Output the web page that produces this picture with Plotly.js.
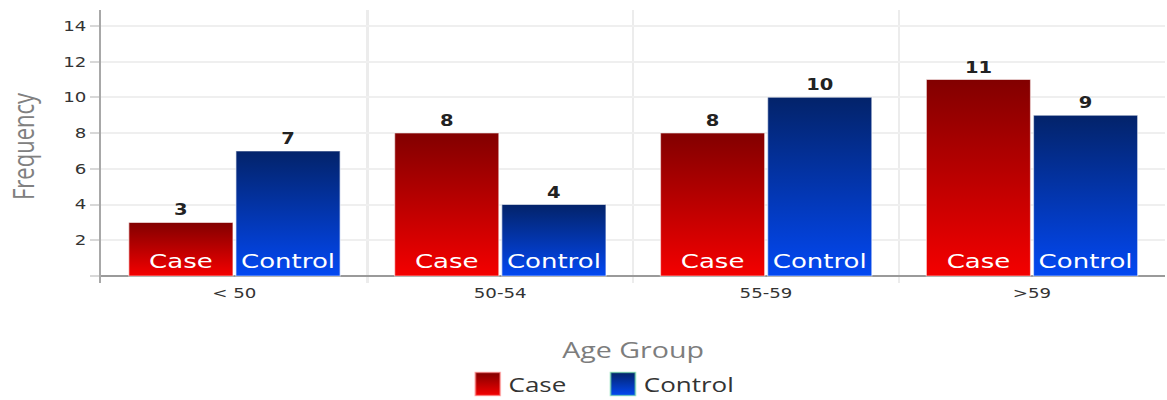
<!DOCTYPE html>
<html>
<head>
<meta charset="utf-8">
<script src="https://cdn.plot.ly/plotly-3.0.1.min.js"></script>
<style>
  html, body { margin: 0; padding: 0; background: #ffffff; overflow: hidden; }
  #wrap { width: 1167px; height: 400px; overflow: hidden; }
  #chart { width: 898px; height: 400px; transform: scaleX(1.3); transform-origin: 0 0; }
</style>
</head>
<body>
<div id="wrap"><div id="chart"></div></div>
<script>
// ---- data ----
const categories = ['< 50', '50-54', '55-59', '>59'];
const caseValues = [3, 8, 8, 11];
const controlValues = [7, 4, 10, 9];
const seriesNames = ['Case', 'Control'];
const yTickVals = [0, 2, 4, 6, 8, 10, 12, 14];
const yTickText = ['', '2', '4', '6', '8', '10', '12', '14'];

// ---- styling ----
const barWidth = 0.392;
const caseOffset = -0.397;
const controlOffset = 0.006;
const grad = {
  Case: ['#820000', '#f40000'],
  Control: ['#03236a', '#0348f2']
};
const legendBorder = { Case: '#ff7a7a', Control: '#5fd79a' };

function valueTrace(name, values, offset, color) {
  return {
    type: 'bar', name: name, x: categories, y: values,
    offset: offset, width: barWidth,
    marker: { color: color, line: { color: 'rgba(255,255,255,0.55)', width: 1 } },
    text: values.map(String), textposition: 'outside', cliponaxis: false,
    constraintext: 'none',
    outsidetextfont: { family: 'DejaVu Sans', size: 15, weight: 700, color: '#222222' },
    hoverinfo: 'x+y+name'
  };
}
function labelTrace(name, values, offset) {
  return {
    type: 'bar', name: name, x: categories, y: values,
    offset: offset, width: barWidth, showlegend: false, hoverinfo: 'skip',
    marker: { color: 'rgba(0,0,0,0)', line: { width: 0 } },
    text: values.map(() => name), textposition: 'inside', insidetextanchor: 'start',
    constraintext: 'none',
    insidetextfont: { family: 'DejaVu Sans', size: 20, color: '#ffffff' }
  };
}

const data = [
  valueTrace(seriesNames[0], caseValues, caseOffset, grad.Case[1]),
  valueTrace(seriesNames[1], controlValues, controlOffset, grad.Control[1]),
  labelTrace(seriesNames[0], caseValues, caseOffset),
  labelTrace(seriesNames[1], controlValues, controlOffset)
];

const layout = {
  width: 898, height: 400,
  margin: { l: 78, r: 2, t: 10, b: 117, pad: 0, autoexpand: false },
  paper_bgcolor: '#ffffff', plot_bgcolor: '#ffffff',
  barmode: 'overlay',
  font: { family: 'DejaVu Sans', size: 14, color: '#333333' },
  xaxis: {
    type: 'category', tickson: 'boundaries', ticks: '',
    showgrid: true, gridcolor: '#ececec', gridwidth: 1.5,
    showline: false, zeroline: false, automargin: false,
    tickfont: { family: 'DejaVu Sans', size: 14, color: '#333333' },
    title: { text: 'Age Group', standoff: 42,
      font: { family: 'Open Sans', size: 22, color: '#7d7d7d' } }
  },
  yaxis: {
    range: [-0.39, 14.89], tickvals: yTickVals, ticktext: yTickText,
    ticks: 'outside', ticklen: 7, tickwidth: 1.5, tickcolor: '#d8d8d8',
    showline: true, linecolor: '#a8a8a8', linewidth: 1.5,
    showgrid: true, gridcolor: '#efefef', gridwidth: 1.5,
    zeroline: true, zerolinecolor: '#9a9a9a', zerolinewidth: 1.5,
    automargin: false,
    tickfont: { family: 'DejaVu Sans', size: 14, color: '#333333' },
    title: { text: 'Frequency', standoff: 16,
      font: { family: 'Open Sans', size: 22, color: '#808080' } }
  },
  legend: {
    orientation: 'h', x: 0.334, xanchor: 'left', y: -0.37, yanchor: 'middle',
    font: { family: 'Open Sans', size: 20, color: '#333333' },
    entrywidth: 59, entrywidthmode: 'pixels',
    bgcolor: 'rgba(0,0,0,0)'
  },
  showlegend: true
};

function applyGradients() {
  const gd = document.getElementById('chart');
  const svg = gd.querySelector('svg.main-svg');
  if (!svg) return;
  let defs = svg.querySelector('defs');
  if (!defs) { defs = document.createElementNS('http://www.w3.org/2000/svg', 'defs'); svg.insertBefore(defs, svg.firstChild); }
  seriesNames.forEach(function (n) {
    const id = 'grad' + n;
    if (defs.querySelector('#' + id)) return;
    const lg = document.createElementNS('http://www.w3.org/2000/svg', 'linearGradient');
    lg.setAttribute('id', id);
    lg.setAttribute('x1', '0'); lg.setAttribute('y1', '0');
    lg.setAttribute('x2', '0'); lg.setAttribute('y2', '1');
    [[0, grad[n][0]], [1, grad[n][1]]].forEach(function (s) {
      const st = document.createElementNS('http://www.w3.org/2000/svg', 'stop');
      st.setAttribute('offset', s[0]);
      st.setAttribute('stop-color', s[1]);
      lg.appendChild(st);
    });
    defs.appendChild(lg);
  });
  const traces = gd.querySelectorAll('.barlayer .trace');
  [0, 1].forEach(function (i) {
    if (!traces[i]) return;
    traces[i].querySelectorAll('.point path').forEach(function (p) {
      p.style.fill = 'url(#grad' + seriesNames[i] + ')';
    });
  });
  const sb = gd.querySelector('.legend .scrollbox');
  if (sb) sb.removeAttribute('clip-path');
  const items = gd.querySelectorAll('.legend .traces');
  items.forEach(function (it, i) {
    const n = seriesNames[i];
    if (!n) return;
    it.querySelectorAll('.legendpoints path').forEach(function (p) {
      p.setAttribute('d', 'M13.5,11.5H-5.5V-11.5H13.5Z');
      p.style.fill = 'url(#grad' + n + ')';
      p.style.stroke = legendBorder[n];
      p.style.strokeWidth = '1.5px';
    });
  });
}

Plotly.newPlot('chart', data, layout, { displayModeBar: false, staticPlot: false }).then(function (gd) {
  applyGradients();
  gd.on('plotly_afterplot', applyGradients);
});
</script>
</body>
</html>
